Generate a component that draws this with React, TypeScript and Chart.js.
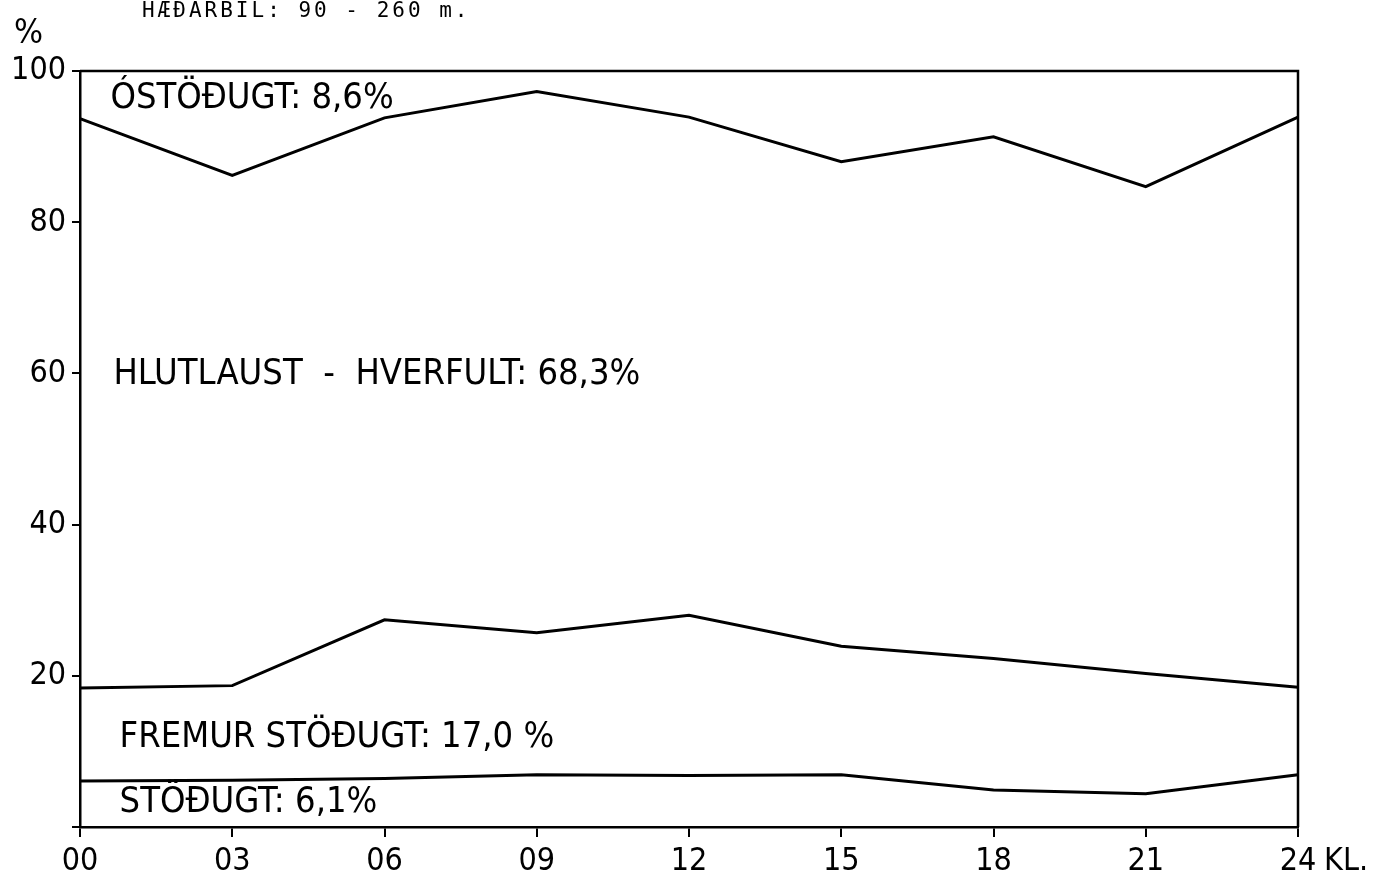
import React, { useEffect, useRef } from 'react';
import { Chart, registerables } from 'chart.js';

Chart.register(...registerables);

// ---- data ----
const hours = ["00", "03", "06", "09", "12", "15", "18", "21", "24"];
const stodugt = [6.1, 6.2, 6.4, 6.9, 6.8, 6.9, 4.9, 4.4, 6.9];
const fremurStodugt = [18.4, 18.7, 27.4, 25.7, 28.0, 23.9, 22.3, 20.3, 18.5];
const hlutlaust = [93.7, 86.2, 93.8, 97.3, 93.9, 88.0, 91.3, 84.7, 93.9];
const yTickValues = [0, 20, 40, 60, 80, 100];

const titleText = "HÆÐARBIL: 90 - 260 m.";
const yUnitText = "%";
const xUnitText = "KL.";
const areaLabels = ["ÓSTÖÐUGT: 8,6%", "HLUTLAUST  -  HVERFULT: 68,3%", "FREMUR STÖÐUGT: 17,0 %", "STÖÐUGT: 6,1%"];
const areaLabelX = [0.2, 0.22, 0.26, 0.26];
const areaLabelY = [96.4, 59.8, 11.8, 3.2];

const FONT = '"DejaVu Sans Condensed", "DejaVu Sans", sans-serif';

const annotate = {
  id: 'annotate',
  afterDraw(chart: any) {
    const ctx = chart.ctx;
    const { top, right, bottom, left } = chart.chartArea;
    const xs = chart.scales.x;
    const ys = chart.scales.y;
    ctx.save();
    // frame top + right
    ctx.strokeStyle = '#000';
    ctx.lineWidth = 2.5;
    ctx.beginPath();
    ctx.moveTo(left, top);
    ctx.lineTo(right, top);
    ctx.lineTo(right, bottom);
    ctx.stroke();

    ctx.fillStyle = '#000';
    // title
    ctx.font = '21px "DejaVu Sans Mono", monospace';
    (ctx as any).letterSpacing = '3px';
    ctx.textAlign = 'left';
    ctx.textBaseline = 'middle';
    ctx.fillText(titleText, 142, 12);
    (ctx as any).letterSpacing = '0px';

    // % unit
    ctx.font = `34px ${FONT}`;
    ctx.fillText(yUnitText, 14, 34);

    // KL.
    ctx.font = `32px ${FONT}`;
    ctx.textBaseline = 'middle';
    ctx.fillText(xUnitText, xs.getPixelForValue(hours.length - 1) + 26, 862);

    // area labels
    ctx.font = `36px ${FONT}`;
    ctx.textBaseline = 'middle';
    areaLabels.forEach((t, i) => {
      ctx.fillText(t, xs.getPixelForValue(areaLabelX[i]), ys.getPixelForValue(areaLabelY[i]));
    });
    ctx.restore();
  },
};

export default function App() {
  const ref = useRef<HTMLCanvasElement | null>(null);
  useEffect(() => {
    if (!ref.current) return;
    const lineDs = (label: string, data: number[]) => ({
      label,
      data,
      borderColor: '#000',
      borderWidth: 3,
      pointRadius: 0,
      tension: 0,
      fill: false,
    });
    const chart = new Chart(ref.current, {
      type: 'line',
      data: {
        labels: hours,
        datasets: [
          lineDs('Stöðugt', stodugt),
          lineDs('Fremur stöðugt', fremurStodugt),
          lineDs('Hlutlaust - hverfult', hlutlaust),
        ],
      },
      options: {
        responsive: false,
        animation: false,
        layout: { padding: { top: 71, right: 87, left: 0, bottom: 0 } },
        plugins: {
          legend: { display: false },
          tooltip: { enabled: false },
          title: { display: false },
        },
        scales: {
          x: {
            type: 'category',
            offset: false,
            grid: { display: true, drawOnChartArea: false, drawTicks: true, tickLength: 10, color: '#000', lineWidth: 2 },
            border: { display: true, color: '#000', width: 2.5 },
            ticks: { color: '#000', font: { family: FONT, size: 32 }, padding: 5, maxRotation: 0, autoSkip: false },
            afterFit: (s: any) => { s.height = 57; },
          },
          y: {
            min: 0,
            max: 100,
            afterBuildTicks: (s: any) => { s.ticks = yTickValues.map((v) => ({ value: v })); },
            grid: { display: true, drawOnChartArea: false, drawTicks: true, tickLength: 8, color: '#000', lineWidth: 2 },
            border: { display: true, color: '#000', width: 2.5 },
            ticks: {
              color: '#000',
              font: { family: FONT, size: 32 },
              padding: 6,
              callback: (v: any) => (v === 0 ? '' : String(v)),
            },
            afterFit: (s: any) => { s.width = 80; },
          },
        },
      },
      plugins: [annotate],
    });
    return () => chart.destroy();
  }, []);
  return (
    <div style={{ position: 'absolute', left: 0, top: 0, width: 1385, height: 884, background: '#fff' }}>
      <canvas ref={ref} width={1385} height={884} />
    </div>
  );
}
